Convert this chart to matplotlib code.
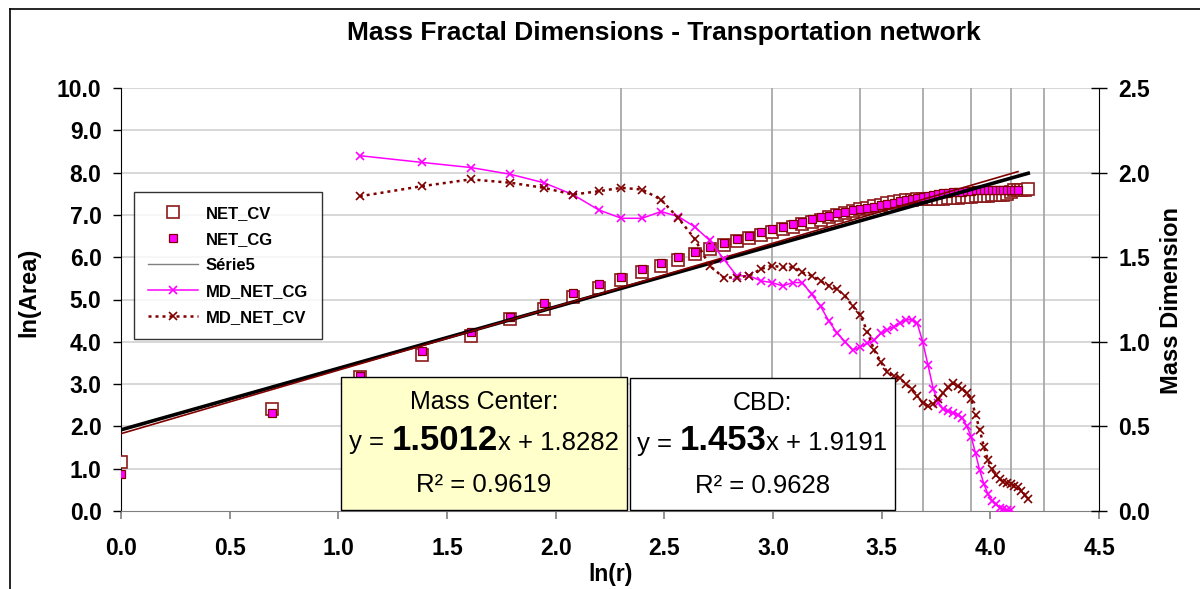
import numpy as np
import matplotlib
matplotlib.use("Agg")
import matplotlib.pyplot as plt
from matplotlib.lines import Line2D
from matplotlib.patches import Rectangle
from matplotlib.ticker import FormatStrFormatter
from matplotlib.offsetbox import TextArea, HPacker, AnnotationBbox

plt.rcParams['font.family'] = ['Liberation Sans', 'DejaVu Sans']
plt.rcParams['font.weight'] = 'bold'

# ---------------- data ----------------
title = "Mass Fractal Dimensions - Transportation network"
r_cg = np.arange(1, 63)          # radius index for NET_CG
r_cv = np.arange(1, 66)          # radius index for NET_CV
r_md_cg = np.arange(3, 61)       # radius index for MD_NET_CG
r_md_cv = np.arange(3, 66)       # radius index for MD_NET_CV
grid_r = [10, 20, 30, 40, 50, 60, 70]   # Série5 (vertical reference lines)

net_cg = [0.87, 2.32, 3.20, 3.78, 4.22, 4.58, 4.91, 5.15, 5.37, 5.54,
          5.72, 5.87, 6.00, 6.13, 6.25, 6.34, 6.44, 6.50, 6.59, 6.66,
          6.71, 6.78, 6.83, 6.90, 6.95, 6.98, 7.04, 7.08, 7.11, 7.13,
          7.16, 7.19, 7.23, 7.25, 7.28, 7.33, 7.35, 7.38, 7.40, 7.43,
          7.45, 7.47, 7.49, 7.51, 7.52, 7.53, 7.54, 7.55, 7.56, 7.57,
          7.58, 7.58, 7.59, 7.59, 7.59, 7.60, 7.60, 7.60, 7.60, 7.60,
          7.60, 7.60]

net_cv = [1.15, 2.41, 3.17, 3.68, 4.13, 4.53, 4.78, 5.06, 5.28, 5.47,
          5.66, 5.80, 5.94, 6.07, 6.19, 6.29, 6.39, 6.46, 6.53, 6.60,
          6.66, 6.72, 6.78, 6.84, 6.89, 6.94, 6.99, 7.05, 7.09, 7.13,
          7.17, 7.21, 7.24, 7.27, 7.30, 7.33, 7.35, 7.36, 7.37, 7.37,
          7.37, 7.37, 7.38, 7.38, 7.39, 7.40, 7.41, 7.42, 7.42, 7.43,
          7.44, 7.44, 7.45, 7.45, 7.46, 7.46, 7.47, 7.48, 7.50, 7.55,
          7.58, 7.59, 7.60, 7.60, 7.61]

md_net_cg = [2.10, 2.06, 2.03, 1.99, 1.94, 1.87, 1.78, 1.73,
             1.73, 1.77, 1.74, 1.68, 1.60, 1.49, 1.39, 1.39, 1.36, 1.35,
             1.33, 1.35, 1.35, 1.28, 1.21, 1.12, 1.05, 1.00, 0.95, 0.97,
             0.99, 1.01, 1.05, 1.07, 1.09, 1.11, 1.13, 1.13, 1.11, 1.00,
             0.86, 0.72, 0.64, 0.60, 0.59, 0.58, 0.57, 0.55, 0.50, 0.44,
             0.34, 0.24, 0.16, 0.10, 0.06, 0.04, 0.02, 0.012, 0.006, 0.003]

md_net_cv = [1.86, 1.92, 1.96, 1.94, 1.91, 1.87, 1.89, 1.91,
             1.90, 1.84, 1.73, 1.61, 1.45, 1.38, 1.38, 1.39, 1.43, 1.45,
             1.44, 1.44, 1.41, 1.39, 1.36, 1.33, 1.31, 1.27, 1.21, 1.16,
             1.06, 0.95, 0.88, 0.82, 0.80, 0.785, 0.75, 0.72, 0.68, 0.64,
             0.62, 0.63, 0.66, 0.70, 0.73, 0.755, 0.74, 0.72, 0.70, 0.66,
             0.57, 0.48, 0.38, 0.30, 0.25, 0.21, 0.19, 0.17, 0.165, 0.16,
             0.15, 0.14, 0.12, 0.095, 0.07]

slope_cg, icpt_cg, r2_cg = 1.5012, 1.8282, 0.9619
slope_cv, icpt_cv, r2_cv = 1.453, 1.9191, 0.9628

# ---------------- figure ----------------
W, H = 1200, 589
fig = plt.figure(figsize=(W / 100, H / 100), dpi=100)
fig.patch.set_facecolor('white')

def fx(p):
    return p / W

def fy(p):
    return 1 - p / H

DARKRED = '#800000'
MAG = '#FF00FF'

ax = fig.add_axes([fx(121), fy(511), fx(1099) - fx(121), fy(88) - fy(511)])
ax.set_xlim(0, 4.5)
ax.set_ylim(0, 10)
ax2 = ax.twinx()
ax2.set_ylim(0, 2.5)

for v in range(1, 11):
    ax.axhline(v, color='#D4D4D4', lw=1.3, zorder=0)
ax.vlines(np.log(grid_r), 0, 10, color='#A8A8A8', lw=1.3, zorder=1)

x_cg = np.log(r_cg)
x_cv = np.log(r_cv)
ax.plot(x_cv, net_cv, ls='none', marker='s', ms=8.3, mfc='white', mec='#8B1A1A',
        mew=1.2, zorder=3)
ax.plot(x_cg, net_cg, ls='none', marker='s', ms=5.3, mfc=MAG, mec=DARKRED,
        mew=0.9, zorder=4)
xs_cv = np.array([0, x_cv.max()])
xs_cg = np.array([0, x_cg.max()])
ax.plot(xs_cv, slope_cv * xs_cv + icpt_cv, color='black', lw=2.6, zorder=5)
ax.plot(xs_cg, slope_cg * xs_cg + icpt_cg, color=DARKRED, lw=1.2, zorder=6)

ax2.plot(np.log(r_md_cg), md_net_cg, color=MAG, lw=1.1, marker='x', ms=6,
         mew=1.2, zorder=3)
ax2.plot(np.log(r_md_cv), md_net_cv, color=DARKRED, lw=1.8, ls=(0, (1.2, 1.6)),
         marker='x', ms=6, mew=1.2, zorder=3)

# spines / ticks
for a in (ax, ax2):
    a.spines['top'].set_visible(False)
ax.spines['right'].set_visible(False)
ax2.spines['left'].set_visible(False)
ax2.spines['bottom'].set_visible(False)
ax.spines['left'].set_color('black')
ax.spines['bottom'].set_color('#7F7F7F')
ax2.spines['right'].set_color('black')

ax.set_xticks(np.arange(0, 4.51, 0.5))
ax.set_yticks(np.arange(0, 10.01, 1.0))
ax2.set_yticks(np.arange(0, 2.51, 0.5))
ax.xaxis.set_major_formatter(FormatStrFormatter('%.1f'))
ax.yaxis.set_major_formatter(FormatStrFormatter('%.1f'))
ax2.yaxis.set_major_formatter(FormatStrFormatter('%.1f'))
ax.tick_params(axis='y', direction='out', length=6, width=1, pad=8,
               labelsize=16.5)
ax.tick_params(axis='x', direction='out', length=6, width=1.2, color='#7F7F7F',
               pad=13, labelsize=16.5)
ax2.tick_params(axis='y', direction='inout', length=12, width=1, pad=8,
                labelsize=16.5)

# axis labels and title
fig.text(fx(29), fy(292), 'ln(Area)', rotation=90, ha='center', va='center',
         fontsize=17, fontweight='bold')
fig.text(fx(1172), fy(300), 'Mass Dimension', rotation=90, ha='center',
         va='center', fontsize=17, fontweight='bold')
fig.text(fx(611), fy(575), 'ln(r)', ha='center', va='center', fontsize=16.5,
         fontweight='bold')
fig.text(fx(664), fy(33), title, ha='center', va='center', fontsize=19,
         fontweight='bold')

# legend
handles = [
    Line2D([], [], ls='none', marker='s', ms=8.3, mfc='white', mec='#8B1A1A', mew=1.2),
    Line2D([], [], ls='none', marker='s', ms=5.3, mfc=MAG, mec=DARKRED, mew=0.9),
    Line2D([], [], color='#808080', lw=1.0),
    Line2D([], [], color=MAG, lw=1.1, marker='x', ms=6, mew=1.2),
    Line2D([], [], color=DARKRED, lw=1.8, ls=(0, (1.2, 1.6)), marker='x', ms=6, mew=1.2),
]
labels = ['NET_CV', 'NET_CG', 'Série5', 'MD_NET_CG', 'MD_NET_CV']
leg = fig.legend(handles, labels, loc='upper left',
                 bbox_to_anchor=(fx(134), fy(192)), bbox_transform=fig.transFigure,
                 frameon=True, fancybox=False, edgecolor='black',
                 prop={'size': 12, 'weight': 'bold'}, handlelength=3.0,
                 handletextpad=0.45, labelspacing=0.66, borderpad=0.85,
                 borderaxespad=0)
leg.get_frame().set_linewidth(1.0)

# equation boxes
def eq_box(x0, x1, y0, y1, face, head, slope, icpt, r2):
    fig.add_artist(Rectangle((fx(x0), fy(y1)), fx(x1) - fx(x0), fy(y0) - fy(y1),
                             transform=fig.transFigure, facecolor=face,
                             edgecolor='black', lw=1.0, zorder=10))
    cx = (x0 + x1) / 2
    fig.text(fx(cx), fy(y0 + 25), head, ha='center', va='center', fontsize=18,
             fontweight='normal', zorder=11)
    parts = [TextArea('y = ', textprops=dict(size=18.5, weight='normal')),
             TextArea(f'{slope}', textprops=dict(size=25, weight='bold')),
             TextArea(f'x + {icpt}', textprops=dict(size=18.5, weight='normal'))]
    pk = HPacker(children=parts, align='baseline', pad=0, sep=0)
    ab = AnnotationBbox(pk, (fx(cx), fy(y0 + 63)), xycoords='figure fraction',
                        frameon=False, box_alignment=(0.5, 0.5), zorder=11)
    fig.add_artist(ab)
    fig.text(fx(cx), fy(y0 + 108), f'R² = {r2}', ha='center', va='center',
             fontsize=18.5, fontweight='normal', zorder=11)

eq_box(341, 627, 377, 510, '#FFFFCC', 'Mass Center:', slope_cg, icpt_cg, r2_cg)
eq_box(630, 895, 378, 510, 'white', 'CBD:', slope_cv, icpt_cv, r2_cv)

# outer chart frame (partially visible)
fig.add_artist(Line2D([fx(9.5), fx(9.5)], [fy(8.5), 0], transform=fig.transFigure,
                      color='black', lw=1.2))
fig.add_artist(Line2D([fx(9.5), 1], [fy(8.5), fy(8.5)], transform=fig.transFigure,
                      color='black', lw=1.2))

fig.savefig('out.png', dpi=100)
